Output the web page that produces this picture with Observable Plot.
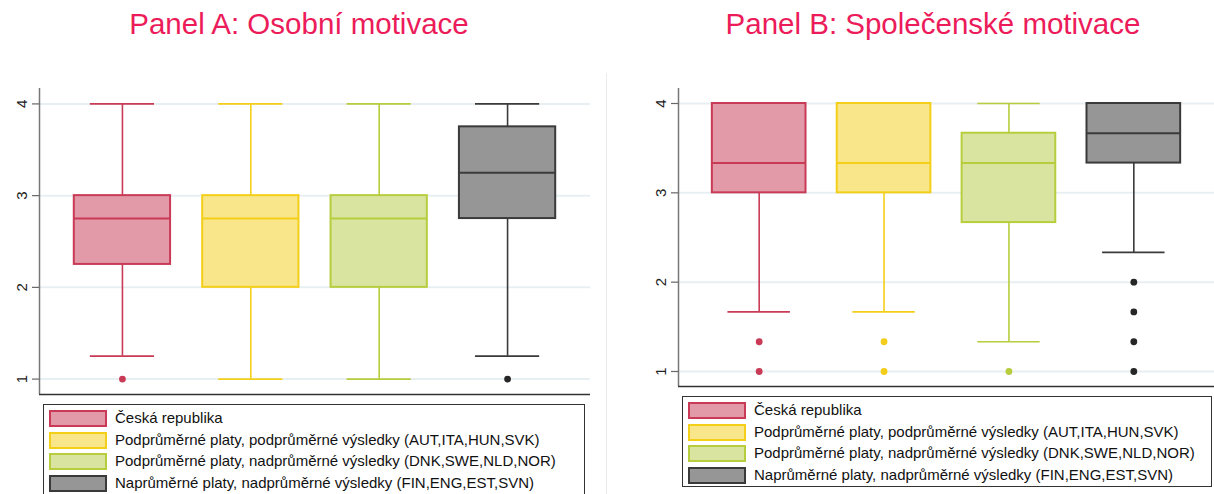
<!DOCTYPE html>
<html>
<head>
<meta charset="utf-8">
<script src="https://cdn.jsdelivr.net/npm/d3@7"></script>
<script src="https://cdn.jsdelivr.net/npm/@observablehq/plot@0.6"></script>
<style>
  html, body { margin: 0; padding: 0; background: #fff; }
  #root { position: relative; width: 1214px; height: 494px; overflow: hidden; background: #fff;
          font-family: "Liberation Sans", Arial, sans-serif; }
  .title { position: absolute; top: 9px; font-size: 29.5px; line-height: 29.5px; color: #ec1b5a;
           text-align: center; white-space: nowrap; }
  .panel { position: absolute; top: 70px; }
  .legend { position: absolute; border: 1px solid #333; background: #fff; }
  .row { position: absolute; left: 0; height: 17px; }
  .sw { position: absolute; left: 5px; top: 0; width: 54px; height: 13px; border: 2px solid; }
  .lab { position: absolute; left: 71px; top: -1px; font-size: 15px; line-height: 18px; color: #111; white-space: nowrap; }
  .sep { position: absolute; left: 606px; top: 73px; width: 1px; height: 421px; background: #ebebeb; }
</style>
</head>
<body>
<div id="root"></div>
<script>
// ---- data ----
const groups = [
  "Česká republika",
  "Podprůměrné platy, podprůměrné výsledky (AUT,ITA,HUN,SVK)",
  "Podprůměrné platy, nadprůměrné výsledky (DNK,SWE,NLD,NOR)",
  "Naprůměrné platy, nadprůměrné výsledky (FIN,ENG,EST,SVN)"
];
const fills   = ["#e299a8", "#f9e68a", "#d9e4a1", "#969696"];
const strokes = ["#c93a56", "#f4cf1a", "#b7cd3d", "#3a3a3a"];
const dotColors = ["#c93a56", "#f2cd1a", "#b7cd3d", "#262626"];
const yTicks = [1, 2, 3, 4];
const titles = ["Panel A: Osobní motivace", "Panel B: Společenské motivace"];

// Panel A: Osobní motivace
const aLow  = [1.25, 1, 1, 1.25];
const aQ1   = [2.25, 2, 2, 2.75];
const aMed  = [2.75, 2.75, 2.75, 3.25];
const aQ3   = [3, 3, 3, 3.75];
const aHigh = [4, 4, 4, 4];
const aOut  = [[1], [], [], [1]];

// Panel B: Společenské motivace
const bLow  = [1.667, 1.667, 1.333, 2.333];
const bQ1   = [3, 3, 2.667, 3.333];
const bMed  = [3.333, 3.333, 3.333, 3.667];
const bQ3   = [4, 4, 3.667, 4];
const bHigh = [4, 4, 4, 4];
const bOut  = [[1.333, 1], [1.333, 1], [1], [2, 1.667, 1.333, 1]];

// ---- drawing ----
const xDomain = [-0.646, 3.646];
const yDomain = [0.832, 4.168];
const boxHalf = 0.375, capHalf = 0.25;

function panel(low, q1, med, q3, high, out, height, marginLeft, marginRight) {
  const rows = groups.map((g, i) => ({i, g, low: low[i], q1: q1[i], med: med[i], q3: q3[i], high: high[i]}));
  const pts = rows.flatMap(r => out[r.i].map(v => ({i: r.i, v})));
  const sc = d => strokes[d.i];
  return Plot.plot({
    width: 607, height, marginTop: 18, marginBottom: 6, marginLeft, marginRight,
    style: {fontFamily: "'Liberation Sans', Arial, sans-serif", fontSize: "15px", background: "transparent", overflow: "visible"},
    x: {domain: xDomain, axis: null},
    y: {domain: yDomain, axis: null},
    marks: [
      Plot.ruleY(yTicks, {stroke: "#e8eff2", strokeWidth: 2}),
      Plot.ruleX([xDomain[0]], {stroke: "#777", strokeWidth: 1.5}),
      Plot.ruleY([yDomain[0]], {stroke: "#333", strokeWidth: 1.5}),
      Plot.axisY(yTicks, {tickSize: 7, stroke: "#666", strokeWidth: 1.2, tickFormat: () => ""}),
      Plot.text(yTicks, {y: d => d, text: d => String(d), frameAnchor: "left", dx: -17,
                         rotate: -90, textAnchor: "middle", lineAnchor: "middle",
                         fontSize: 15, fill: "#222"}),
      // whiskers
      Plot.ruleX(rows, {x: "i", y1: "low", y2: "q1", stroke: sc, strokeWidth: 1.6}),
      Plot.ruleX(rows, {x: "i", y1: "q3", y2: "high", stroke: sc, strokeWidth: 1.6}),
      Plot.ruleY(rows, {y: "low", x1: d => d.i - capHalf, x2: d => d.i + capHalf, stroke: sc, strokeWidth: 1.6}),
      Plot.ruleY(rows, {y: "high", x1: d => d.i - capHalf, x2: d => d.i + capHalf, stroke: sc, strokeWidth: 1.6}),
      // boxes
      Plot.rect(rows, {x1: d => d.i - boxHalf, x2: d => d.i + boxHalf, y1: "q1", y2: "q3",
                       fill: d => fills[d.i], stroke: sc, strokeWidth: 2}),
      Plot.ruleY(rows, {y: "med", x1: d => d.i - boxHalf, x2: d => d.i + boxHalf, stroke: sc, strokeWidth: 2}),
      // outliers
      Plot.dot(pts, {x: "i", y: "v", r: 3.4, fill: d => dotColors[d.i], stroke: "none"})
    ]
  });
}

const root = document.getElementById("root");

function addTitle(text, left, width) {
  const t = document.createElement("div");
  t.className = "title";
  t.style.left = left + "px";
  t.style.width = width + "px";
  t.textContent = text;
  root.appendChild(t);
}

function addLegend(left, top, width, height, spacing) {
  const lg = document.createElement("div");
  lg.className = "legend";
  Object.assign(lg.style, {left: left + "px", top: top + "px", width: width + "px", height: height + "px"});
  groups.forEach((g, i) => {
    const row = document.createElement("div");
    row.className = "row";
    row.style.top = (5 + i * spacing) + "px";
    const sw = document.createElement("div");
    sw.className = "sw";
    sw.style.background = fills[i];
    sw.style.borderColor = strokes[i];
    const lab = document.createElement("div");
    lab.className = "lab";
    lab.textContent = g;
    row.appendChild(sw); row.appendChild(lab);
    lg.appendChild(row);
  });
  root.appendChild(lg);
}

addTitle(titles[0], 0, 598);
addTitle(titles[1], 607, 652);

const pA = panel(aLow, aQ1, aMed, aQ3, aHigh, aOut, 330, 39, 17);
pA.classList.add("panel"); pA.style.left = "0px";
root.appendChild(pA);

const pB = panel(bLow, bQ1, bMed, bQ3, bHigh, bOut, 322, 71, 0);
pB.classList.add("panel"); pB.style.left = "607px";
root.appendChild(pB);

const sep = document.createElement("div"); sep.className = "sep"; root.appendChild(sep);

addLegend(43, 404, 540, 100, 21.5);
addLegend(682, 396, 528, 89, 21.7);
</script>
</body>
</html>
